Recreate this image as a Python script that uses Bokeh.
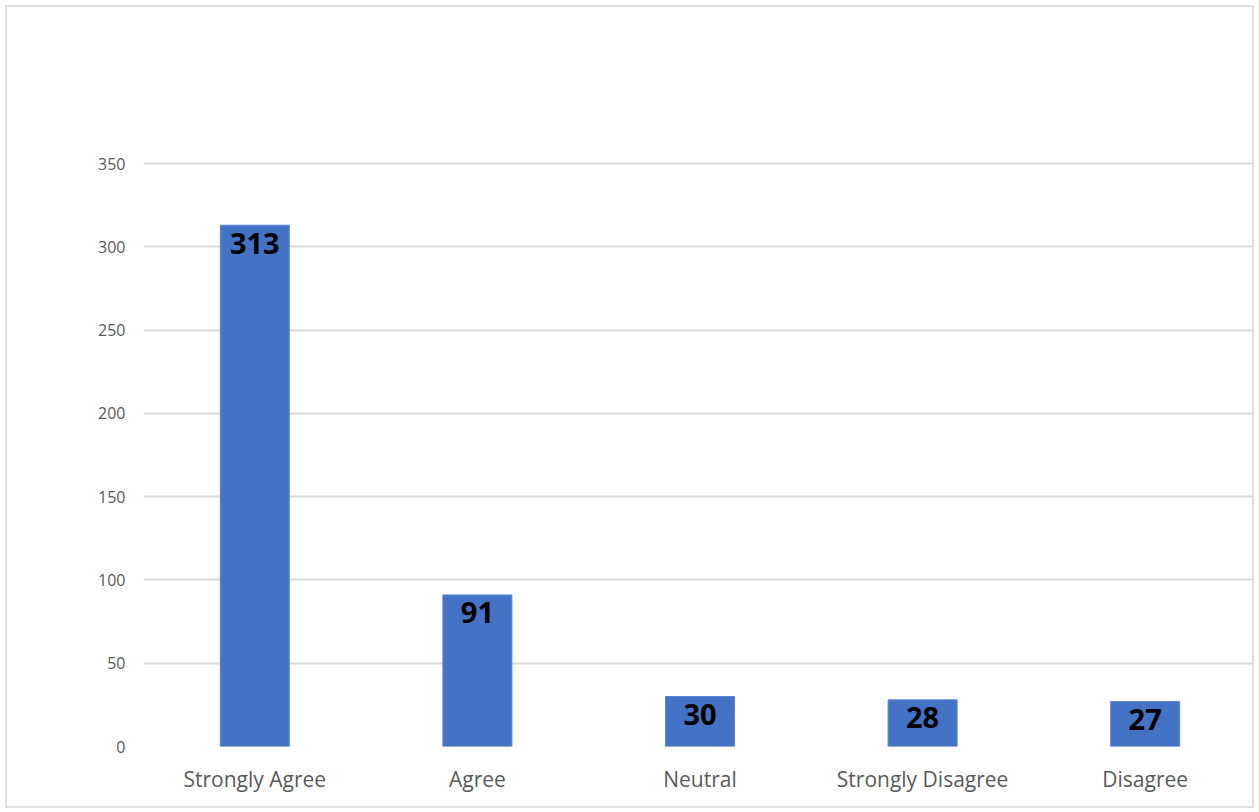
from bokeh.plotting import figure
from bokeh.models import ColumnDataSource, Range1d, FixedTicker, LabelSet
from bokeh.core.properties import value
from bokeh.embed import file_html
from bokeh.resources import INLINE

categories = ["Strongly Agree", "Agree", "Neutral", "Strongly Disagree", "Disagree"]
counts = [313, 91, 30, 28, 27]
y_ticks = [0, 50, 100, 150, 200, 250, 300, 350]

src = ColumnDataSource(data=dict(cat=categories, n=counts, lbl=[str(c) for c in counts]))

p = figure(
    x_range=categories,
    y_range=Range1d(0, 436.5),
    width=1249, height=803,
    output_backend="svg", toolbar_location=None,
    min_border_left=136, min_border_right=0,
    min_border_top=12, min_border_bottom=64,
)
p.styles = {"border": "2px solid #dedede", "margin-left": "5px", "margin-top": "5px"}
p.x_range.range_padding = 0
p.outline_line_color = None
p.background_fill_color = "white"
p.border_fill_color = "white"

p.vbar(x="cat", top="n", width=0.31, source=src,
       fill_color="#4472C4", line_color="#5B86D0", line_width=1)

labels = LabelSet(x="cat", y="n", text="lbl", source=src,
                  text_font=value("Open Sans"), text_font_style="bold",
                  text_font_size="29px", text_color="black",
                  text_align="center", text_baseline="middle", y_offset=-18)
p.add_layout(labels)

p.yaxis.ticker = FixedTicker(ticks=y_ticks)
p.yaxis.axis_line_color = None
p.yaxis.major_tick_line_color = None
p.yaxis.minor_tick_line_color = None
p.yaxis.major_label_standoff = 12
p.yaxis.major_label_text_font = "Open Sans"
p.yaxis.major_label_text_font_size = "16px"
p.yaxis.major_label_text_color = "#595959"

p.xaxis.axis_line_color = None
p.xaxis.major_tick_line_color = None
p.xaxis.minor_tick_line_color = None
p.xaxis.major_label_standoff = 12
p.xaxis.major_label_text_font = "Open Sans"
p.xaxis.major_label_text_font_size = "21px"
p.xaxis.major_label_text_color = "#595959"

p.xgrid.grid_line_color = None
p.ygrid.ticker = FixedTicker(ticks=y_ticks)
p.ygrid.grid_line_color = "#d9d9d9"
p.ygrid.grid_line_width = 2

open("out.html", "w").write(file_html(p, INLINE))
